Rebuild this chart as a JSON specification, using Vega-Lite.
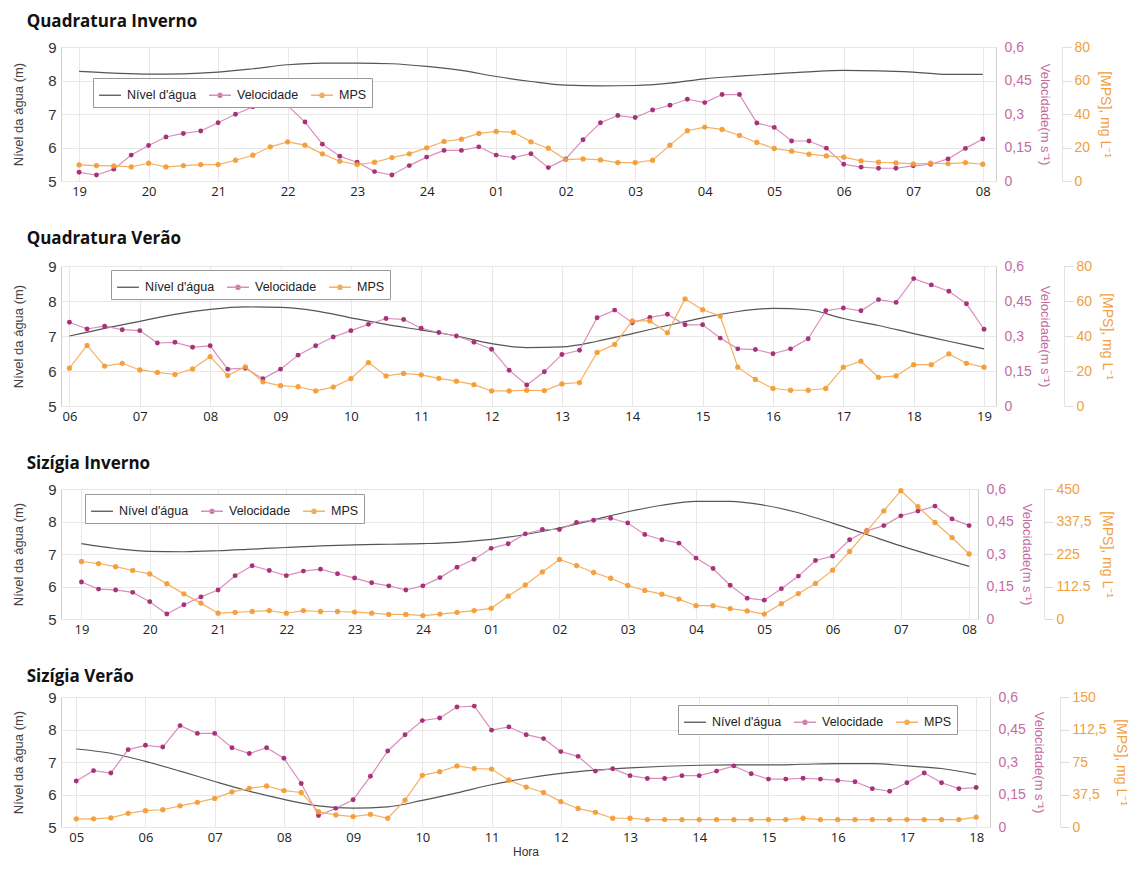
{
"$schema": "https://vega.github.io/schema/vega-lite/v6.json",
"padding": {"left": 12, "top": 12, "right": 2, "bottom": 2},
"background": "white",
"config": {
  "view": {"stroke": "#cfcfcf"},
  "axis": {"labelFont": "Liberation Sans", "titleFont": "Liberation Sans", "gridColor": "#e8e8e8", "domain": false, "ticks": false},
  "title": {"anchor": "start", "frame": "bounds", "font": "Open Sans", "fontSize": 17, "fontWeight": "bold", "color": "#111", "offset": 9, "dx": 14}
},
"datasets": {
"qi": [
{"t":0,"v":0.039,"m":9.6,"n":8.27},{"t":0.25,"v":0.027,"m":9.2},{"t":0.5,"v":0.053,"m":9.0,"n":8.22},{"t":0.75,"v":0.116,"m":8.4},
{"t":1,"v":0.159,"m":10.6,"n":8.19},{"t":1.25,"v":0.197,"m":8.4},{"t":1.5,"v":0.213,"m":9.2,"n":8.2},{"t":1.75,"v":0.224,"m":9.8},
{"t":2,"v":0.261,"m":9.8,"n":8.25},{"t":2.25,"v":0.299,"m":12.4},{"t":2.5,"v":0.332,"m":15.4,"n":8.35},{"t":2.75,"v":0.342,"m":20.4},
{"t":3,"v":0.338,"m":23.4,"n":8.47},{"t":3.25,"v":0.264,"m":21.4},{"t":3.5,"v":0.165,"m":16.2,"n":8.52},{"t":3.75,"v":0.111,"m":11.8},
{"t":4,"v":0.084,"m":9.8,"n":8.52},{"t":4.25,"v":0.042,"m":11.2},{"t":4.5,"v":0.027,"m":14.0,"n":8.5},{"t":4.75,"v":0.069,"m":16.2},
{"t":5,"v":0.107,"m":19.8,"n":8.42},{"t":5.25,"v":0.137,"m":23.6},{"t":5.5,"v":0.137,"m":25.0,"n":8.3},{"t":5.75,"v":0.153,"m":28.4},
{"t":6,"v":0.116,"m":29.6,"n":8.12},{"t":6.25,"v":0.105,"m":29.0},{"t":6.5,"v":0.122,"m":23.4,"n":7.97},{"t":6.75,"v":0.06,"m":19.6},
{"t":7,"v":0.099,"m":12.8,"n":7.86},{"t":7.25,"v":0.185,"m":13.2},{"t":7.5,"v":0.261,"m":12.6,"n":7.84},{"t":7.75,"v":0.293,"m":11.0},
{"t":8,"v":0.284,"m":11.0,"n":7.85},{"t":8.25,"v":0.318,"m":12.4},{"t":8.5,"v":0.339,"m":21.4,"n":7.92},{"t":8.75,"v":0.366,"m":30.0},
{"t":9,"v":0.351,"m":32.2,"n":8.05},{"t":9.25,"v":0.387,"m":30.8},{"t":9.5,"v":0.387,"m":27.2,"n":8.13},{"t":9.75,"v":0.26,"m":23.0},
{"t":10,"v":0.24,"m":19.4,"n":8.2},{"t":10.25,"v":0.179,"m":17.8},{"t":10.5,"v":0.179,"m":16.0,"n":8.26},{"t":10.75,"v":0.147,"m":15.0},
{"t":11,"v":0.075,"m":14.2,"n":8.3},{"t":11.25,"v":0.062,"m":12.0},{"t":11.5,"v":0.057,"m":11.2,"n":8.29},{"t":11.75,"v":0.057,"m":10.8},
{"t":12,"v":0.068,"m":10.2,"n":8.25},{"t":12.25,"v":0.075,"m":10.6},{"t":12.5,"v":0.099,"m":10.4,"n":8.18},{"t":12.75,"v":0.146,"m":11.0},
{"t":13,"v":0.188,"m":10.0,"n":8.18}
],
"qv": [
{"t":0,"v":0.359,"m":21.6,"n":7.0},{"t":0.25,"v":0.33,"m":34.6},{"t":0.5,"v":0.342,"m":22.8,"n":7.22},{"t":0.75,"v":0.327,"m":24.4},
{"t":1,"v":0.323,"m":20.6,"n":7.42},{"t":1.25,"v":0.27,"m":19.2},{"t":1.5,"v":0.273,"m":18.0,"n":7.62},{"t":1.75,"v":0.252,"m":21.2},
{"t":2,"v":0.258,"m":28.2,"n":7.76},{"t":2.25,"v":0.158,"m":17.4},{"t":2.5,"v":0.162,"m":22.4,"n":7.83},{"t":2.75,"v":0.117,"m":13.8},
{"t":3,"v":0.158,"m":11.6,"n":7.82},{"t":3.25,"v":0.218,"m":11.0},{"t":3.5,"v":0.258,"m":8.6,"n":7.72},{"t":3.75,"v":0.296,"m":10.8},
{"t":4,"v":0.323,"m":15.6,"n":7.52},{"t":4.25,"v":0.35,"m":24.8},{"t":4.5,"v":0.375,"m":17.2,"n":7.33},{"t":4.75,"v":0.371,"m":18.6},
{"t":5,"v":0.333,"m":17.8,"n":7.17},{"t":5.25,"v":0.315,"m":15.8},{"t":5.5,"v":0.3,"m":14.2,"n":7.0},{"t":5.75,"v":0.273,"m":12.2},
{"t":6,"v":0.243,"m":8.6,"n":6.78},{"t":6.25,"v":0.153,"m":8.6},{"t":6.5,"v":0.09,"m":9.0,"n":6.67},{"t":6.75,"v":0.147,"m":8.8},
{"t":7,"v":0.221,"m":12.6,"n":6.69},{"t":7.25,"v":0.239,"m":13.4},{"t":7.5,"v":0.378,"m":30.6,"n":6.85},{"t":7.75,"v":0.411,"m":35.2},
{"t":8,"v":0.357,"m":48.6,"n":7.07},{"t":8.25,"v":0.38,"m":48.6},{"t":8.5,"v":0.393,"m":41.8,"n":7.3},{"t":8.75,"v":0.348,"m":61.2},
{"t":9,"v":0.348,"m":55.0,"n":7.52},{"t":9.25,"v":0.291,"m":51.4},{"t":9.5,"v":0.245,"m":22.2,"n":7.7},{"t":9.75,"v":0.242,"m":15.2},
{"t":10,"v":0.224,"m":10.0,"n":7.79},{"t":10.25,"v":0.245,"m":9.0},{"t":10.5,"v":0.288,"m":9.0,"n":7.75},{"t":10.75,"v":0.408,"m":10.0},
{"t":11,"v":0.42,"m":22.2,"n":7.5},{"t":11.25,"v":0.408,"m":25.6},{"t":11.5,"v":0.456,"m":16.4,"n":7.3},{"t":11.75,"v":0.444,"m":17.2},
{"t":12,"v":0.546,"m":23.6,"n":7.07},{"t":12.25,"v":0.519,"m":23.6},{"t":12.5,"v":0.492,"m":29.8,"n":6.85},{"t":12.75,"v":0.438,"m":24.4},
{"t":13,"v":0.329,"m":22.2,"n":6.63}
],
"si": [
{"t":0,"v":0.171,"m":199,"n":7.32},{"t":0.25,"v":0.138,"m":192},{"t":0.5,"v":0.134,"m":181,"n":7.17},{"t":0.75,"v":0.123,"m":168},
{"t":1,"v":0.08,"m":156,"n":7.08},{"t":1.25,"v":0.023,"m":122},{"t":1.5,"v":0.066,"m":87,"n":7.07},{"t":1.75,"v":0.102,"m":55},
{"t":2,"v":0.134,"m":20,"n":7.1},{"t":2.25,"v":0.2,"m":23},{"t":2.5,"v":0.246,"m":26,"n":7.15},{"t":2.75,"v":0.224,"m":29},
{"t":3,"v":0.2,"m":20,"n":7.2},{"t":3.25,"v":0.221,"m":29},{"t":3.5,"v":0.23,"m":26,"n":7.25},{"t":3.75,"v":0.209,"m":26},
{"t":4,"v":0.189,"m":24,"n":7.28},{"t":4.25,"v":0.167,"m":20},{"t":4.5,"v":0.153,"m":16,"n":7.3},{"t":4.75,"v":0.134,"m":16},
{"t":5,"v":0.153,"m":12,"n":7.32},{"t":5.25,"v":0.191,"m":17},{"t":5.5,"v":0.239,"m":23,"n":7.36},{"t":5.75,"v":0.276,"m":29},
{"t":6,"v":0.326,"m":37,"n":7.45},{"t":6.25,"v":0.347,"m":79},{"t":6.5,"v":0.393,"m":118,"n":7.6},{"t":6.75,"v":0.413,"m":163},
{"t":7,"v":0.413,"m":206,"n":7.8},{"t":7.25,"v":0.446,"m":185},{"t":7.5,"v":0.456,"m":161,"n":8.05},{"t":7.75,"v":0.465,"m":141},
{"t":8,"v":0.443,"m":116,"n":8.3},{"t":8.25,"v":0.39,"m":99},{"t":8.5,"v":0.366,"m":86,"n":8.5},{"t":8.75,"v":0.35,"m":69},
{"t":9,"v":0.281,"m":46,"n":8.62},{"t":9.25,"v":0.233,"m":46},{"t":9.5,"v":0.156,"m":36,"n":8.62},{"t":9.75,"v":0.096,"m":28},
{"t":10,"v":0.087,"m":17,"n":8.5},{"t":10.25,"v":0.14,"m":53},{"t":10.5,"v":0.198,"m":88,"n":8.27},{"t":10.75,"v":0.27,"m":123},
{"t":11,"v":0.29,"m":169,"n":7.95},{"t":11.25,"v":0.366,"m":234},{"t":11.5,"v":0.407,"m":303,"n":7.6},{"t":11.75,"v":0.431,"m":374},
{"t":12,"v":0.476,"m":444,"n":7.25},{"t":12.25,"v":0.498,"m":389},{"t":12.5,"v":0.521,"m":334,"n":6.93},{"t":12.75,"v":0.462,"m":282},
{"t":13,"v":0.431,"m":225,"n":6.62}
],
"sv": [
{"t":0,"v":0.212,"m":9.4,"n":7.4},{"t":0.25,"v":0.26,"m":9.4},{"t":0.5,"v":0.249,"m":10.5,"n":7.27},{"t":0.75,"v":0.357,"m":15.8},
{"t":1,"v":0.377,"m":18.8,"n":7.02},{"t":1.25,"v":0.369,"m":19.9},{"t":1.5,"v":0.468,"m":24.4,"n":6.72},{"t":1.75,"v":0.432,"m":28.5},
{"t":2,"v":0.432,"m":33.0,"n":6.4},{"t":2.25,"v":0.366,"m":40.5},{"t":2.5,"v":0.339,"m":44.6,"n":6.1},{"t":2.75,"v":0.366,"m":47.3},
{"t":3,"v":0.317,"m":42.0,"n":5.85},{"t":3.25,"v":0.201,"m":39.8},{"t":3.5,"v":0.053,"m":17.6,"n":5.65},{"t":3.75,"v":0.086,"m":13.9},
{"t":4,"v":0.126,"m":12.0,"n":5.58},{"t":4.25,"v":0.234,"m":14.6},{"t":4.5,"v":0.351,"m":10.1,"n":5.62},{"t":4.75,"v":0.426,"m":31.1},
{"t":5,"v":0.491,"m":59.6,"n":5.82},{"t":5.25,"v":0.503,"m":63.8},{"t":5.5,"v":0.554,"m":70.5,"n":6.05},{"t":5.75,"v":0.558,"m":67.5},
{"t":6,"v":0.447,"m":66.8,"n":6.3},{"t":6.25,"v":0.462,"m":54.0},{"t":6.5,"v":0.426,"m":46.1,"n":6.5},{"t":6.75,"v":0.408,"m":39.8},
{"t":7,"v":0.348,"m":29.3,"n":6.65},{"t":7.25,"v":0.326,"m":21.4},{"t":7.5,"v":0.258,"m":16.9,"n":6.75},{"t":7.75,"v":0.269,"m":10.1},
{"t":8,"v":0.237,"m":10.1,"n":6.82},{"t":8.25,"v":0.224,"m":8.6},{"t":8.5,"v":0.224,"m":8.6,"n":6.87},{"t":8.75,"v":0.237,"m":8.6},
{"t":9,"v":0.237,"m":8.6,"n":6.9},{"t":9.25,"v":0.258,"m":8.6},{"t":9.5,"v":0.282,"m":8.6,"n":6.91},{"t":9.75,"v":0.246,"m":8.6},
{"t":10,"v":0.221,"m":8.6,"n":6.91},{"t":10.25,"v":0.221,"m":8.6},{"t":10.5,"v":0.225,"m":10.1,"n":6.93},{"t":10.75,"v":0.221,"m":8.6},
{"t":11,"v":0.215,"m":8.6,"n":6.95},{"t":11.25,"v":0.209,"m":8.6},{"t":11.5,"v":0.177,"m":8.6,"n":6.95},{"t":11.75,"v":0.165,"m":8.6},
{"t":12,"v":0.204,"m":8.6,"n":6.88},{"t":12.25,"v":0.249,"m":8.6},{"t":12.5,"v":0.204,"m":8.6,"n":6.8},{"t":12.75,"v":0.177,"m":8.6},
{"t":13,"v":0.182,"m":11.3,"n":6.62}
]
},
"spacing": 30,
"resolve": {"scale": {"color": "independent"}, "legend": {"color": "independent"}},
"vconcat": [
{
 "title": {"text": "Quadratura Inverno", "offset": 9},
 "width": 935, "height": 134,
 "data": {"name": "qi"},
 "layer": [
  {"transform": [{"filter": "isValid(datum.n)"}],
   "mark": {"type": "line", "strokeWidth": 1.2, "interpolate": "monotone"},
   "encoding": {
    "x": {"field": "t", "type": "quantitative", "scale": {"domain": [-0.26, 13.19], "nice": false, "zero": false},
      "axis": {"values": [0,1,2,3,4,5,6,7,8,9,10,11,12,13], "labelExpr": "(datum.value+19)%24==0 ? '24' : (((datum.value+19)%24<10) ? '0' : '') + ((datum.value+19)%24)", "title": null, "grid": true, "labelFont": "Open Sans", "labelFontSize": 13, "labelColor": "#222", "labelPadding": 4}},
    "y": {"field": "n", "type": "quantitative", "scale": {"domain": [5, 9], "nice": false, "zero": false},
      "axis": {"orient": "left", "values": [5,6,7,8,9], "title": "Nível da água (m)", "grid": true, "labelFontSize": 15, "labelColor": "#333", "titleFontSize": 13, "titleColor": "#444", "titleFontWeight": "normal", "labelPadding": 5, "titlePadding": 22}},
    "color": {"datum": "Nível d'água", "type": "nominal", "scale": {"domain": ["Nível d'água", "Velocidade", "MPS"], "range": ["#555555", "#d98fbc", "#f6b063"]},
      "legend": {"orient": "none", "legendX": 32, "legendY": 31, "direction": "horizontal", "title": null, "strokeColor": "#999", "fillColor": "#fff", "padding": 5, "labelFont": "Liberation Sans", "labelFontSize": 12.5, "labelColor": "#222", "symbolSize": 480, "symbolStrokeWidth": 1.3, "columnPadding": 9, "labelOffset": 5,
        "encode": {"symbols": {"update": {"shape": {"signal": "datum.value == 'MPS' || datum.value == 'Velocidade' ? 'M-1,0L1,0M-0.2,0A0.2,0.2,0,1,1,0.2,0A0.2,0.2,0,1,1,-0.2,0Z' : 'stroke'"}, "fill": {"signal": "datum.value == 'Velocidade' ? '#a8327a' : datum.value == 'MPS' ? '#f39a30' : 'transparent'"}}}}}}
   }},
  {"encoding": {
    "x": {"field": "t", "type": "quantitative", "scale": {"domain": [-0.26, 13.19], "nice": false, "zero": false}},
    "y": {"field": "v", "type": "quantitative", "scale": {"domain": [0, 0.6], "nice": false},
      "axis": {"orient": "right", "values": [0,0.15,0.3,0.45,0.6], "labelExpr": "datum.value == 0 ? '0' : replace(format(datum.value, '.2~f'), '.', ',')", "title": "Velocidade(m s⁻¹)", "grid": false, "labelColor": "#c56aa2", "titleColor": "#c56aa2", "labelFontSize": 14, "titleFontSize": 13, "titleFontWeight": "normal", "labelPadding": 8, "titlePadding": 6}}},
   "layer": [
    {"mark": {"type": "line", "strokeWidth": 1.2}, "encoding": {"color": {"datum": "Velocidade", "type": "nominal"}}},
    {"mark": {"type": "circle", "size": 24, "color": "#a8327a", "opacity": 1}}
   ]},
  {"encoding": {
    "x": {"field": "t", "type": "quantitative", "scale": {"domain": [-0.26, 13.19], "nice": false, "zero": false}},
    "y": {"field": "m", "type": "quantitative", "scale": {"domain": [0, 80], "nice": false},
      "axis": {"orient": "right", "offset": 66, "values": [0,20,40,60,80], "title": "[MPS], mg L⁻¹", "grid": false, "labelColor": "#f0a040", "titleColor": "#f0a040", "labelFontSize": 14, "titleFontSize": 14, "titleFontWeight": "normal", "domain": true, "domainColor": "#e4e4e4", "ticks": true, "tickColor": "#dddddd", "tickSize": 9, "labelPadding": 3, "titlePadding": 8}}},
   "layer": [
    {"mark": {"type": "line", "strokeWidth": 1.2}, "encoding": {"color": {"datum": "MPS", "type": "nominal"}}},
    {"mark": {"type": "circle", "size": 28, "color": "#f39a30", "opacity": 0.9}}
   ]}
 ],
 "resolve": {"scale": {"y": "independent"}}
},
{
 "title": {"text": "Quadratura Verão", "offset": 11},
 "width": 935, "height": 140,
 "data": {"name": "qv"},
 "layer": [
  {"transform": [{"filter": "isValid(datum.n)"}],
   "mark": {"type": "line", "strokeWidth": 1.2, "interpolate": "monotone"},
   "encoding": {
    "x": {"field": "t", "type": "quantitative", "scale": {"domain": [-0.12, 13.17], "nice": false, "zero": false},
      "axis": {"values": [0,1,2,3,4,5,6,7,8,9,10,11,12,13], "labelExpr": "((datum.value+6)<10 ? '0' : '') + (datum.value+6)", "title": null, "grid": true, "labelFont": "Open Sans", "labelFontSize": 13, "labelColor": "#222", "labelPadding": 4}},
    "y": {"field": "n", "type": "quantitative", "scale": {"domain": [5, 9], "nice": false, "zero": false},
      "axis": {"orient": "left", "values": [5,6,7,8,9], "title": "Nível da água  (m)", "grid": true, "labelFontSize": 15, "labelColor": "#333", "titleFontSize": 13, "titleColor": "#444", "titleFontWeight": "normal", "labelPadding": 5, "titlePadding": 22}},
    "color": {"datum": "Nível d'água", "type": "nominal", "scale": {"domain": ["Nível d'água", "Velocidade", "MPS"], "range": ["#555555", "#d98fbc", "#f6b063"]},
      "legend": {"orient": "none", "legendX": 50, "legendY": 4, "direction": "horizontal", "title": null, "strokeColor": "#999", "fillColor": "#fff", "padding": 5, "labelFont": "Liberation Sans", "labelFontSize": 12.5, "labelColor": "#222", "symbolSize": 480, "symbolStrokeWidth": 1.3, "columnPadding": 9, "labelOffset": 5,
        "encode": {"symbols": {"update": {"shape": {"signal": "datum.value == 'MPS' || datum.value == 'Velocidade' ? 'M-1,0L1,0M-0.2,0A0.2,0.2,0,1,1,0.2,0A0.2,0.2,0,1,1,-0.2,0Z' : 'stroke'"}, "fill": {"signal": "datum.value == 'Velocidade' ? '#a8327a' : datum.value == 'MPS' ? '#f39a30' : 'transparent'"}}}}}}
   }},
  {"encoding": {
    "x": {"field": "t", "type": "quantitative", "scale": {"domain": [-0.12, 13.17], "nice": false, "zero": false}},
    "y": {"field": "v", "type": "quantitative", "scale": {"domain": [0, 0.6], "nice": false},
      "axis": {"orient": "right", "values": [0,0.15,0.3,0.45,0.6], "labelExpr": "datum.value == 0 ? '0' : replace(format(datum.value, '.2~f'), '.', ',')", "title": "Velocidade(m s⁻¹)", "grid": false, "labelColor": "#c56aa2", "titleColor": "#c56aa2", "labelFontSize": 14, "titleFontSize": 13, "titleFontWeight": "normal", "labelPadding": 8, "titlePadding": 6}}},
   "layer": [
    {"mark": {"type": "line", "strokeWidth": 1.2}, "encoding": {"color": {"datum": "Velocidade", "type": "nominal"}}},
    {"mark": {"type": "circle", "size": 24, "color": "#a8327a", "opacity": 1}}
   ]},
  {"encoding": {
    "x": {"field": "t", "type": "quantitative", "scale": {"domain": [-0.12, 13.17], "nice": false, "zero": false}},
    "y": {"field": "m", "type": "quantitative", "scale": {"domain": [0, 80], "nice": false},
      "axis": {"orient": "right", "offset": 68, "values": [0,20,40,60,80], "title": "[MPS], mg L⁻¹", "grid": false, "labelColor": "#f0a040", "titleColor": "#f0a040", "labelFontSize": 14, "titleFontSize": 14, "titleFontWeight": "normal", "domain": true, "domainColor": "#e4e4e4", "ticks": true, "tickColor": "#dddddd", "tickSize": 9, "labelPadding": 3, "titlePadding": 8}}},
   "layer": [
    {"mark": {"type": "line", "strokeWidth": 1.2}, "encoding": {"color": {"datum": "MPS", "type": "nominal"}}},
    {"mark": {"type": "circle", "size": 28, "color": "#f39a30", "opacity": 0.9}}
   ]}
 ],
 "resolve": {"scale": {"y": "independent"}}
},
{
 "title": {"text": "Sizígia Inverno", "offset": 9},
 "width": 917, "height": 130,
 "data": {"name": "si"},
 "layer": [
  {"transform": [{"filter": "isValid(datum.n)"}],
   "mark": {"type": "line", "strokeWidth": 1.2, "interpolate": "monotone"},
   "encoding": {
    "x": {"field": "t", "type": "quantitative", "scale": {"domain": [-0.3, 13.13], "nice": false, "zero": false},
      "axis": {"values": [0,1,2,3,4,5,6,7,8,9,10,11,12,13], "labelExpr": "(datum.value+19)%24==0 ? '24' : (((datum.value+19)%24<10) ? '0' : '') + ((datum.value+19)%24)", "title": null, "grid": true, "labelFont": "Open Sans", "labelFontSize": 13, "labelColor": "#222", "labelPadding": 4}},
    "y": {"field": "n", "type": "quantitative", "scale": {"domain": [5, 9], "nice": false, "zero": false},
      "axis": {"orient": "left", "values": [5,6,7,8,9], "title": "Nível da água (m)", "grid": true, "labelFontSize": 15, "labelColor": "#333", "titleFontSize": 13, "titleColor": "#444", "titleFontWeight": "normal", "labelPadding": 5, "titlePadding": 22}},
    "color": {"datum": "Nível d'água", "type": "nominal", "scale": {"domain": ["Nível d'água", "Velocidade", "MPS"], "range": ["#555555", "#d98fbc", "#f6b063"]},
      "legend": {"orient": "none", "legendX": 24, "legendY": 5, "direction": "horizontal", "title": null, "strokeColor": "#999", "fillColor": "#fff", "padding": 5, "labelFont": "Liberation Sans", "labelFontSize": 12.5, "labelColor": "#222", "symbolSize": 480, "symbolStrokeWidth": 1.3, "columnPadding": 9, "labelOffset": 5,
        "encode": {"symbols": {"update": {"shape": {"signal": "datum.value == 'MPS' || datum.value == 'Velocidade' ? 'M-1,0L1,0M-0.2,0A0.2,0.2,0,1,1,0.2,0A0.2,0.2,0,1,1,-0.2,0Z' : 'stroke'"}, "fill": {"signal": "datum.value == 'Velocidade' ? '#a8327a' : datum.value == 'MPS' ? '#f39a30' : 'transparent'"}}}}}}
   }},
  {"encoding": {
    "x": {"field": "t", "type": "quantitative", "scale": {"domain": [-0.3, 13.13], "nice": false, "zero": false}},
    "y": {"field": "v", "type": "quantitative", "scale": {"domain": [0, 0.6], "nice": false},
      "axis": {"orient": "right", "values": [0,0.15,0.3,0.45,0.6], "labelExpr": "datum.value == 0 ? '0' : replace(format(datum.value, '.2~f'), '.', ',')", "title": "Velocidade(m s⁻¹)", "grid": false, "labelColor": "#c56aa2", "titleColor": "#c56aa2", "labelFontSize": 14, "titleFontSize": 13, "titleFontWeight": "normal", "labelPadding": 8, "titlePadding": 6}}},
   "layer": [
    {"mark": {"type": "line", "strokeWidth": 1.2}, "encoding": {"color": {"datum": "Velocidade", "type": "nominal"}}},
    {"mark": {"type": "circle", "size": 24, "color": "#a8327a", "opacity": 1}}
   ]},
  {"encoding": {
    "x": {"field": "t", "type": "quantitative", "scale": {"domain": [-0.3, 13.13], "nice": false, "zero": false}},
    "y": {"field": "m", "type": "quantitative", "scale": {"domain": [0, 450], "nice": false},
      "axis": {"orient": "right", "offset": 66, "values": [0,112.5,225,337.5,450], "labelExpr": "datum.value == 112.5 ? '112.5' : datum.value == 337.5 ? '337,5' : format(datum.value, 'd')", "title": "[MPS], mg L⁻¹", "grid": false, "labelColor": "#f0a040", "titleColor": "#f0a040", "labelFontSize": 14, "titleFontSize": 14, "titleFontWeight": "normal", "domain": true, "domainColor": "#e4e4e4", "ticks": true, "tickColor": "#dddddd", "tickSize": 9, "labelPadding": 3, "titlePadding": 8}}},
   "layer": [
    {"mark": {"type": "line", "strokeWidth": 1.2}, "encoding": {"color": {"datum": "MPS", "type": "nominal"}}},
    {"mark": {"type": "circle", "size": 28, "color": "#f39a30", "opacity": 0.9}}
   ]}
 ],
 "resolve": {"scale": {"y": "independent"}}
},
{
 "title": {"text": "Sizígia Verão", "offset": 4},
 "width": 929, "height": 130,
 "data": {"name": "sv"},
 "layer": [
  {"transform": [{"filter": "isValid(datum.n)"}],
   "mark": {"type": "line", "strokeWidth": 1.2, "interpolate": "monotone"},
   "encoding": {
    "x": {"field": "t", "type": "quantitative", "scale": {"domain": [-0.22, 13.2], "nice": false, "zero": false},
      "axis": {"values": [0,1,2,3,4,5,6,7,8,9,10,11,12,13], "labelExpr": "((datum.value+5)<10 ? '0' : '') + (datum.value+5)", "title": "Hora", "titleFont": "Liberation Sans", "titleFontSize": 12, "titleFontWeight": "normal", "titleColor": "#333", "titlePadding": 2, "grid": true, "labelFont": "Open Sans", "labelFontSize": 13, "labelColor": "#222", "labelPadding": 4}},
    "y": {"field": "n", "type": "quantitative", "scale": {"domain": [5, 9], "nice": false, "zero": false},
      "axis": {"orient": "left", "values": [5,6,7,8,9], "title": "Nível da água  (m)", "grid": true, "labelFontSize": 15, "labelColor": "#333", "titleFontSize": 13, "titleColor": "#444", "titleFontWeight": "normal", "labelPadding": 5, "titlePadding": 22}},
    "color": {"datum": "Nível d'água", "type": "nominal", "scale": {"domain": ["Nível d'água", "Velocidade", "MPS"], "range": ["#555555", "#d98fbc", "#f6b063"]},
      "legend": {"orient": "none", "legendX": 617, "legendY": 8, "direction": "horizontal", "title": null, "strokeColor": "#999", "fillColor": "#fff", "padding": 5, "labelFont": "Liberation Sans", "labelFontSize": 12.5, "labelColor": "#222", "symbolSize": 480, "symbolStrokeWidth": 1.3, "columnPadding": 9, "labelOffset": 5,
        "encode": {"symbols": {"update": {"shape": {"signal": "datum.value == 'MPS' || datum.value == 'Velocidade' ? 'M-1,0L1,0M-0.2,0A0.2,0.2,0,1,1,0.2,0A0.2,0.2,0,1,1,-0.2,0Z' : 'stroke'"}, "fill": {"signal": "datum.value == 'Velocidade' ? '#a8327a' : datum.value == 'MPS' ? '#f39a30' : 'transparent'"}}}}}}
   }},
  {"encoding": {
    "x": {"field": "t", "type": "quantitative", "scale": {"domain": [-0.22, 13.2], "nice": false, "zero": false}},
    "y": {"field": "v", "type": "quantitative", "scale": {"domain": [0, 0.6], "nice": false},
      "axis": {"orient": "right", "values": [0,0.15,0.3,0.45,0.6], "labelExpr": "datum.value == 0 ? '0' : replace(format(datum.value, '.2~f'), '.', ',')", "title": "Velocidade(m s⁻¹)", "grid": false, "labelColor": "#c56aa2", "titleColor": "#c56aa2", "labelFontSize": 14, "titleFontSize": 13, "titleFontWeight": "normal", "labelPadding": 8, "titlePadding": 6}}},
   "layer": [
    {"mark": {"type": "line", "strokeWidth": 1.2}, "encoding": {"color": {"datum": "Velocidade", "type": "nominal"}}},
    {"mark": {"type": "circle", "size": 24, "color": "#a8327a", "opacity": 1}}
   ]},
  {"encoding": {
    "x": {"field": "t", "type": "quantitative", "scale": {"domain": [-0.22, 13.2], "nice": false, "zero": false}},
    "y": {"field": "m", "type": "quantitative", "scale": {"domain": [0, 150], "nice": false},
      "axis": {"orient": "right", "offset": 70, "values": [0,37.5,75,112.5,150], "labelExpr": "datum.value == 37.5 ? '37,5' : datum.value == 112.5 ? '112,5' : format(datum.value, 'd')", "title": "[MPS], mg L⁻¹", "grid": false, "labelColor": "#f0a040", "titleColor": "#f0a040", "labelFontSize": 14, "titleFontSize": 14, "titleFontWeight": "normal", "domain": true, "domainColor": "#e4e4e4", "ticks": true, "tickColor": "#dddddd", "tickSize": 9, "labelPadding": 3, "titlePadding": 8}}},
   "layer": [
    {"mark": {"type": "line", "strokeWidth": 1.2}, "encoding": {"color": {"datum": "MPS", "type": "nominal"}}},
    {"mark": {"type": "circle", "size": 28, "color": "#f39a30", "opacity": 0.9}}
   ]}
 ],
 "resolve": {"scale": {"y": "independent"}}
}
]
}
